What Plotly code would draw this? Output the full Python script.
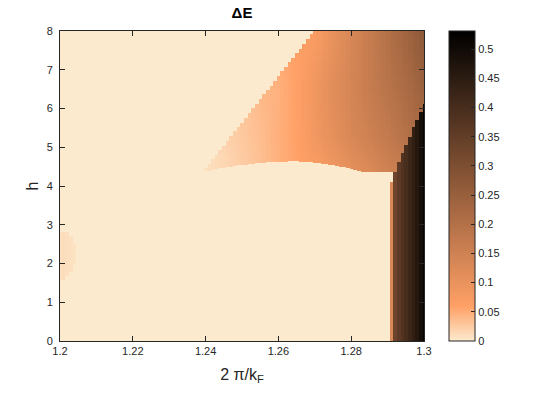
import numpy as np
import plotly.graph_objects as go

# ---------------- data ----------------
# grid of the map (cell centres)
x_step = 0.001
h_step = 0.025
x_min, x_max = 1.200, 1.300
h_min, h_max = 0.0, 8.0

# lower (arch-shaped) boundary of the upper phase
arch_x = [1.2393, 1.245, 1.250, 1.255, 1.260, 1.265, 1.270, 1.275, 1.280, 1.285, 1.290]
arch_h = [4.37, 4.47, 4.54, 4.59, 4.62, 4.63, 4.60, 4.53, 4.44, 4.29, 4.06]

# left (slanted) boundary of the upper phase
edge_h = [4.37, 5.06, 8.0]
edge_x = [1.2393, 1.2451, 1.2698]

# values of ΔE inside the upper phase (rows: h, columns: x)
upper_x = [1.240, 1.245, 1.250, 1.255, 1.260, 1.265, 1.270, 1.275, 1.280, 1.285, 1.290, 1.295, 1.300]
upper_h = [4.4, 5.3, 6.5, 8.0]
upper_v = [
    [0.008, 0.015, 0.024, 0.034, 0.046, 0.058, 0.070, 0.088, 0.108, 0.128, 0.150, 0.170, 0.190],
    [0.010, 0.018, 0.027, 0.036, 0.048, 0.060, 0.085, 0.108, 0.132, 0.152, 0.172, 0.197, 0.222],
    [0.012, 0.020, 0.030, 0.040, 0.046, 0.060, 0.088, 0.115, 0.140, 0.165, 0.190, 0.215, 0.245],
    [0.015, 0.025, 0.035, 0.045, 0.055, 0.062, 0.070, 0.102, 0.134, 0.165, 0.200, 0.235, 0.272],
]

# dark strip at the right edge: per-column value and top of the strip
dark_x = [1.291, 1.292, 1.293, 1.294, 1.295, 1.296, 1.297, 1.298, 1.299, 1.300]
dark_v = [0.13, 0.33, 0.36, 0.38, 0.40, 0.42, 0.44, 0.46, 0.49, 0.52]
dark_top = [4.1, 4.35, 4.6, 4.85, 5.05, 5.25, 5.5, 5.7, 5.9, 6.1]

# faint patch at the left edge
patch_x = [1.200, 1.201, 1.202, 1.203, 1.204]
patch_lo = [1.6, 1.6, 1.7, 1.8, 2.0]
patch_hi = [2.8, 2.8, 2.8, 2.7, 2.5]
patch_v = [0.009, 0.011, 0.009, 0.008, 0.006]

# axis ticks
x_ticks = [1.2, 1.22, 1.24, 1.26, 1.28, 1.3]
x_ticklabels = ["1.2", "1.22", "1.24", "1.26", "1.28", "1.3"]
y_ticks = [0, 1, 2, 3, 4, 5, 6, 7, 8]
cb_ticks = [0, 0.05, 0.1, 0.15, 0.2, 0.25, 0.3, 0.35, 0.4, 0.45, 0.5]
cb_ticklabels = ["0", "0.05", "0.1", "0.15", "0.2", "0.25", "0.3", "0.35", "0.4", "0.45", "0.5"]
z_max = 0.531

# ---------------- build the map ----------------
xs = np.round(np.arange(x_min, x_max + x_step / 2, x_step), 3)
hs = np.round(np.arange(h_min, h_max + h_step / 2, h_step), 3)
up_v = np.array(upper_v)

z = np.zeros((len(hs), len(xs)))
for j, x in enumerate(xs):
    col_rows = np.array([np.interp(x, upper_x, row) for row in up_v])
    a_h = np.interp(x, arch_x, arch_h)
    for i, h in enumerate(hs):
        v = 0.0
        if x >= arch_x[0] - 1e-9 and h >= a_h - 1e-9 and h >= edge_h[0]:
            if x >= np.interp(h, edge_h, edge_x) - 1e-9:
                v = float(np.interp(h, upper_h, col_rows))
        if x in dark_x:
            k = dark_x.index(x)
            if h <= dark_top[k] + 1e-9:
                v = dark_v[k]
        if x in patch_x:
            k = patch_x.index(x)
            if patch_lo[k] - 1e-9 <= h <= patch_hi[k] + 1e-9:
                v = patch_v[k]
        z[i, j] = v

colorscale = [
    [0.0, "rgb(252,234,206)"],
    [0.06 / z_max, "rgb(255,160,102)"],
    [1.0, "rgb(0,0,0)"],
]

AX = "#262626"
FONT = "Liberation Sans, Arial, Helvetica, sans-serif"
L, R = 60, 424
W = R - L

fig = go.Figure(go.Heatmap(
    x=xs, y=hs, z=z, zmin=0, zmax=z_max, colorscale=colorscale,
    colorbar=dict(
        tickvals=cb_ticks, ticktext=cb_ticklabels, ticks="inside", ticklen=4,
        tickcolor=AX, outlinecolor=AX, outlinewidth=1, thickness=26,
        thicknessmode="pixels", len=1, lenmode="fraction", x=(449 - L) / W, xanchor="left",
        xpad=0, ypad=0, y=0.5, yanchor="middle",
        tickfont=dict(family=FONT, size=11, color=AX),
    ),
))

fig.update_layout(
    width=545, height=394,
    margin=dict(l=L, r=545 - R, t=31, b=53),
    paper_bgcolor="white", plot_bgcolor="white",
    font=dict(family=FONT, color=AX),
    title=dict(text="<b>ΔE</b>", x=0.5, xref="paper", xanchor="center",
               y=1 - 13 / 394, yref="container", yanchor="middle",
               font=dict(size=15, color="black", family=FONT)),
    xaxis=dict(range=[1.2, 1.3], tickvals=x_ticks, ticktext=x_ticklabels,
               ticks="inside", ticklen=5, tickcolor=AX, showline=True, mirror="ticks",
               linecolor=AX, linewidth=1, showgrid=False, zeroline=False,
               tickfont=dict(size=11, color=AX, family=FONT),
               title=dict(text="2 π/k<sub>F</sub>", standoff=12,
                          font=dict(size=16, color=AX, family=FONT))),
    yaxis=dict(range=[0, 8], tickvals=y_ticks, ticks="inside", ticklen=5, tickcolor=AX,
               showline=True, mirror="ticks", linecolor=AX, linewidth=1,
               showgrid=False, zeroline=False, ticklabelstandoff=4,
               tickfont=dict(size=11, color=AX, family=FONT),
               title=dict(text="h", standoff=4,
                          font=dict(size=16, color=AX, family=FONT))),
)

fig.write_html("out.html", config={"displayModeBar": False},
               post_script="document.body.style.margin='0px';")
